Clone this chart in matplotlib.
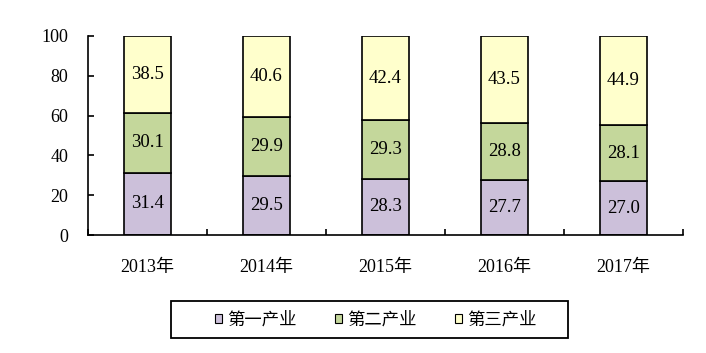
import numpy as np
import matplotlib.pyplot as plt
from matplotlib.patches import Patch, Rectangle

years = ["2013年", "2014年", "2015年", "2016年", "2017年"]
primary = [31.4, 29.5, 28.3, 27.7, 27.0]
secondary = [30.1, 29.9, 29.3, 28.8, 28.1]
tertiary = [38.5, 40.6, 42.4, 43.5, 44.9]
names = ["第一产业", "第二产业", "第三产业"]
colors = ["#CCC0DA", "#C4D79B", "#FFFFCC"]

plt.rcParams['font.family'] = ['Liberation Serif', 'Noto Sans CJK SC']

W, H = 706, 353
fig = plt.figure(figsize=(W / 100, H / 100), dpi=100)
ax = fig.add_axes([88 / W, 1 - 235 / H, 595 / W, 199 / H])

x = np.arange(len(years))
bottom = np.zeros(len(years))
for vals, c in zip([primary, secondary, tertiary], colors):
    ax.bar(x, vals, width=0.4, bottom=bottom, color=c, edgecolor="black", linewidth=1.2)
    for xi, b, v in zip(x, bottom, vals):
        ax.text(xi, b + v / 2, f"{v:.1f}", ha="center", va="center", fontsize=13.5)
    bottom += np.array(vals)

ax.set_xlim(-0.5, len(years) - 0.5)
ax.set_ylim(0, 100)
ax.set_yticks(range(0, 101, 20))
ax.set_xticks(x)
ax.set_xticklabels(years, fontsize=13)
ax.set_xticks(np.arange(-0.5, len(years), 1), minor=True)
ax.tick_params(axis="x", which="major", length=0, pad=17)
ax.tick_params(axis="x", which="minor", direction="in", length=4, width=1.2)
ax.tick_params(axis="y", direction="in", length=4, width=1.2, labelsize=13, pad=14)
ax.spines["top"].set_visible(False)
ax.spines["right"].set_visible(False)
ax.spines["left"].set_linewidth(1.2)
ax.spines["bottom"].set_linewidth(1.2)

# legend frame
fig.patches.append(Rectangle((171 / W, 1 - 338 / H), 397 / W, 37 / H, transform=fig.transFigure,
                             facecolor="none", edgecolor="black", linewidth=1.3))
handles = [Patch(facecolor=c, edgecolor="black", linewidth=0.8) for c in colors]
fig.legend(handles, names, loc="center", bbox_to_anchor=(376 / W, 1 - 320 / H),
           ncol=3, frameon=False,
           handlelength=0.4, handleheight=0.4, handletextpad=0.3, columnspacing=2.2,
           borderpad=0, prop={"family": ["Noto Sans CJK SC"], "size": 12.5})

fig.savefig("out.png", dpi=100)
